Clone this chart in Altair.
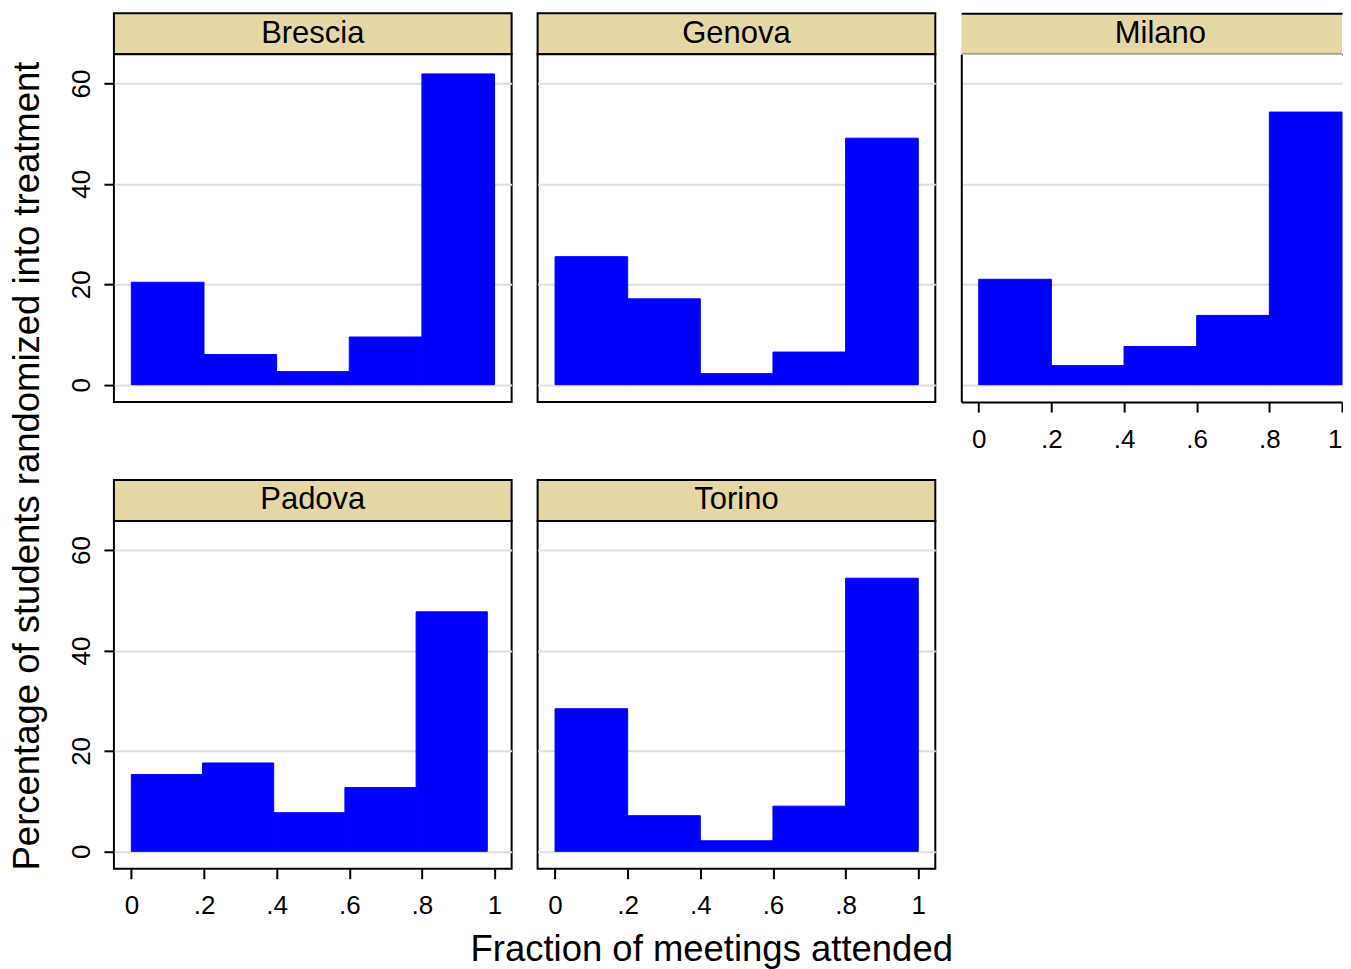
import altair as alt
import pandas as pd

FONT = "Liberation Sans"

cities = ["Brescia", "Genova", "Milano", "Padova", "Torino"]

edges_standard = [0.0, 0.2, 0.4, 0.6, 0.8, 1.0]
edges_padova = [0.0, 0.196, 0.392, 0.588, 0.784, 0.98]

pct_brescia = [20.4, 6.0, 2.6, 9.5, 61.9]
pct_genova = [25.5, 17.1, 2.2, 6.5, 49.1]
pct_milano = [21.0, 3.8, 7.6, 13.8, 54.3]
pct_padova = [15.3, 17.6, 7.7, 12.7, 47.7]
pct_torino = [28.4, 7.1, 2.1, 9.0, 54.4]

x_ticks = [0, 0.2, 0.4, 0.6, 0.8, 1]
y_ticks = [0, 20, 40, 60]

pcts = {"Brescia": pct_brescia, "Genova": pct_genova, "Milano": pct_milano,
        "Padova": pct_padova, "Torino": pct_torino}
edges = {"Brescia": edges_standard, "Genova": edges_standard, "Milano": edges_standard,
         "Padova": edges_padova, "Torino": edges_standard}

W, PH, HH, GAP = 398, 348, 41, 78
W_CUT = 381                      # last column is cut by the page edge
X_DOM = [-0.048, 1.047]
X_DOM_CUT = [-0.048, 1.0]
Y_DOM = [-3.46, 65.8]
BLUE = "#0000FF"
TAN = "#E5D8A5"
GRID = "#DEDEDE"


def plot_panel(city, show_x, show_y, cut=False):
    e = edges[city]
    df = pd.DataFrame({"x0": e[:-1], "x1": e[1:], "pct": pcts[city], "base": [0] * 5})
    if show_x:
        xaxis = alt.Axis(values=x_ticks, grid=False, domain=cut, domainColor="black",
                         domainWidth=2, ticks=True, tickSize=10,
                         tickWidth=2, tickColor="black", labelFontSize=26, labelFont=FONT,
                         labelColor="black", labelPadding=14, title=None,
                         labelFlush=1 if cut else False,
                         labelExpr="replace(format(datum.value, '.1~f'), '0.', '.')")
    else:
        xaxis = None
    yaxis = alt.Axis(values=y_ticks, grid=True, gridColor=GRID, gridWidth=2,
                     domain=cut, domainColor="black", domainWidth=2,
                     ticks=show_y, labels=show_y, tickSize=10, tickWidth=2, tickColor="black",
                     labelAngle=270, labelAlign="center", labelBaseline="alphabetic",
                     labelPadding=14, labelFontSize=26, labelFont=FONT, labelColor="black",
                     title=None)
    view = (alt.ViewBackground(strokeOpacity=0, strokeWidth=0, fill="white") if cut
            else alt.ViewBackground(stroke="black", strokeWidth=2, fill="white"))
    return alt.Chart(df).mark_rect(color=BLUE, stroke=BLUE, strokeWidth=1).encode(
        x=alt.X("x0:Q", scale=alt.Scale(domain=X_DOM_CUT if cut else X_DOM, nice=False, zero=False),
                axis=xaxis),
        x2="x1:Q",
        y=alt.Y("pct:Q", scale=alt.Scale(domain=Y_DOM, nice=False, zero=False), axis=yaxis),
        y2="base:Q",
    ).properties(width=W_CUT if cut else W, height=PH, view=view)


def header(city):
    return alt.Chart(pd.DataFrame({"city": [city]})).mark_text(
        fontSize=31, font=FONT, color="black", baseline="middle", align="center"
    ).encode(text="city:N").properties(
        width=W, height=HH,
        view=alt.ViewBackground(fill=TAN, stroke="black", strokeWidth=2))


def header_cut(city):
    df = pd.DataFrame({"city": [city]})
    xs = alt.Scale(domain=X_DOM_CUT, nice=False, zero=False)
    ys = alt.Scale(domain=[0, 1], nice=False, zero=False)

    def edge_axis(orient):
        return alt.Axis(orient=orient, domain=True, domainColor="black", domainWidth=2,
                        ticks=False, labels=False, grid=False, title=None)

    top = alt.Chart(df).mark_text(
        fontSize=31, font=FONT, color="black", baseline="middle", align="center"
    ).encode(
        text="city:N",
        x=alt.X(datum=0.5, type="quantitative", scale=xs, axis=edge_axis("top")),
        y=alt.Y(datum=0.5, type="quantitative", scale=ys, axis=edge_axis("left")),
    )
    bottom = alt.Chart(df).mark_text(opacity=0).encode(
        text="city:N",
        x=alt.X(datum=0.5, type="quantitative", scale=xs, axis=edge_axis("bottom")),
        y=alt.Y(datum=0.5, type="quantitative", scale=ys, axis=None),
    )
    return alt.layer(top, bottom).resolve_axis(x="independent").properties(
        width=W_CUT, height=HH,
        view=alt.ViewBackground(fill=TAN, strokeOpacity=0, strokeWidth=0))


def blank(w, h):
    return alt.Chart(pd.DataFrame({"t": [""]})).mark_text().encode(text="t:N").properties(
        width=w, height=h, view=alt.ViewBackground(strokeOpacity=0, strokeWidth=0))


cells = [
    header("Brescia"), header("Genova"), header_cut("Milano"),
    plot_panel("Brescia", False, True), plot_panel("Genova", False, False),
    plot_panel("Milano", True, False, cut=True),
    blank(W, GAP), blank(W, GAP), blank(W_CUT, GAP),
    header("Padova"), header("Torino"), blank(W_CUT, HH),
    plot_panel("Padova", True, True), plot_panel("Torino", True, False), blank(W_CUT, PH),
]

grid = alt.concat(
    *cells, columns=3, spacing={"row": 0, "column": 26}, bounds="flush",
    title=alt.TitleParams("Percentage of students randomized into treatment", orient="left",
                          anchor="middle", fontSize=36.5, font=FONT, fontWeight="normal",
                          color="black", offset=21),
)

chart = alt.vconcat(
    grid,
    title=alt.TitleParams("Fraction of meetings attended", orient="bottom", anchor="middle",
                          fontSize=36.5, font=FONT, fontWeight="normal", color="black",
                          offset=12, dx=35),
).properties(
    padding={"left": 2, "top": 4, "right": 0, "bottom": 0}
).configure(background="white")

chart.save("out.html", embed_options={"renderer": "svg", "actions": False})
